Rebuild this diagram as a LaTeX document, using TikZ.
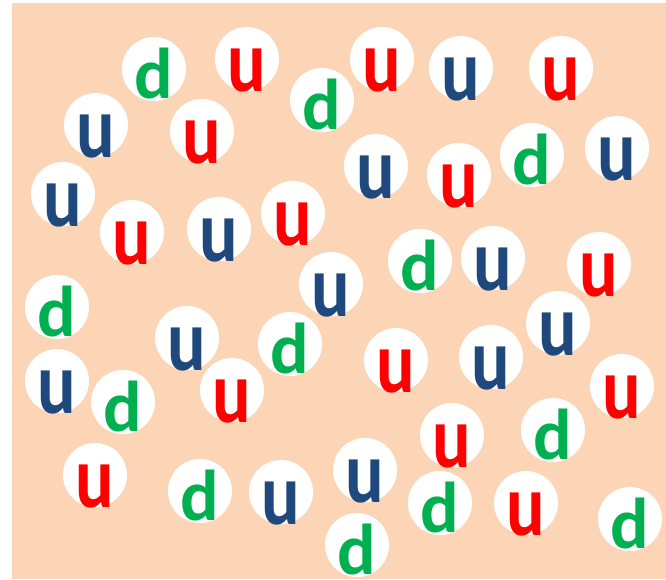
\documentclass[tikz,border=0pt]{standalone}
\usepackage{graphicx,fontspec}
\setmainfont{Carlito}
\definecolor{peach}{HTML}{FBD5B5}
\definecolor{upred}{HTML}{FF0000}
\definecolor{upblue}{HTML}{1F497D}
\definecolor{downgreen}{HTML}{00B050}
\tikzset{quark/.style={circle,fill=white,minimum size=64pt,inner sep=0pt},flavour/.style={anchor=base,inner sep=0pt,font=\bfseries\fontsize{72}{72}\selectfont}}
\newcommand{\tallu}{\scalebox{1}[1.22]{u}}
\begin{document}
\begin{tikzpicture}[x=1pt,y=-1pt]
\useasboundingbox (0,0) rectangle (666,579);
\fill[peach] (12,3) rectangle (666,579);
% down quarks
\foreach \n/\x/\y in {1/154/69,2/322/100,3/532/155,4/420/261,5/57/307,6/290/344,7/123/402,8/553/430,9/200/491,10/440/503,11/630/519,12/357/545}{
  \node[quark](d\n)at(\x,\y){};
  \node[flavour,text=downgreen] at ([yshift=-29pt]d\n.center){d};}
% up quarks, red and blue
\foreach \n/\x/\y/\c in {1/247/59/upred,2/382/59/upred,3/561/68/upred,4/202/131/upred,5/459/175/upred,6/132/232/upred,7/293/213/upred,8/599/264/upred,9/396/360/upred,10/232/390/upred,11/622/386/upred,12/452/435/upred,13/95/475/upred,14/526/503/upred,
  15/461/68/upblue,16/96/125/upblue,17/376/166/upblue,18/617/148/upblue,19/63/194/upblue,20/219/229/upblue,21/493/258/upblue,22/331/284/upblue,23/187/338/upblue,24/558/323/upblue,25/57/381/upblue,26/491/357/upblue,27/281/492/upblue,28/365/470/upblue}{
  \node[quark](u\n)at(\x,\y){};
  \node[flavour,text=\c] at ([yshift=-32pt]u\n.center){\tallu};}
\end{tikzpicture}
\end{document}
